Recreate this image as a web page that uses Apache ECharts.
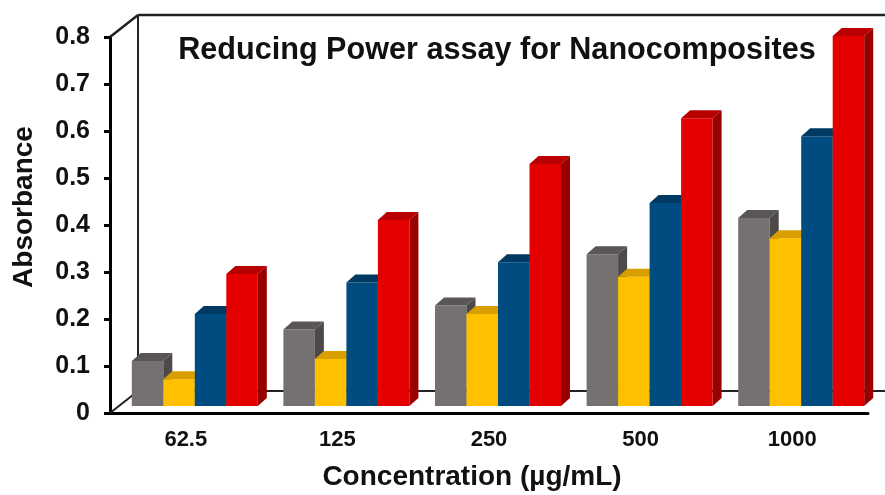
<!DOCTYPE html>
<html>
<head>
<meta charset="utf-8">
<script src="https://cdn.jsdelivr.net/npm/echarts@6/dist/echarts.min.js"></script>
<style>
html,body{margin:0;padding:0;background:#fff;}
#c{width:885px;height:495px;}
</style>
</head>
<body>
<div id="c"></div>
<script>
const categories = ['62.5', '125', '250', '500', '1000'];
const grayVals   = [0.096, 0.163, 0.214, 0.323, 0.400];
const yellowVals = [0.057, 0.100, 0.196, 0.275, 0.357];
const blueVals   = [0.196, 0.263, 0.306, 0.432, 0.574];
const redVals    = [0.281, 0.396, 0.515, 0.612, 0.787];
const yMin = 0, yMax = 0.8, yStep = 0.1;
const titleText = 'Reducing Power assay for Nanocomposites';
const yName = 'Absorbance';
const xName = 'Concentration (\u00b5g/mL)';

const seriesDefs = [
  { name: 'Series 1', vals: grayVals,   front: '#767171', top: '#5a5656', side: '#4d4949' },
  { name: 'Series 2', vals: yellowVals, front: '#ffc000', top: '#d99e00', side: '#b88600' },
  { name: 'Series 3', vals: blueVals,   front: '#004b7f', top: '#003a63', side: '#00304f' },
  { name: 'Series 4', vals: redVals,    front: '#e50000', top: '#b80000', side: '#990000' }
];

const FONT = '"Liberation Sans", Arial, sans-serif';
const GRID_L = 110, GRID_R = 17, GRID_T = 37, GRID_B = 82;
const BAR_DX = 9, BAR_DY = 7;     // bar plane offset
const DEP_X = 9, DEP_Y = 8;       // bar depth
const WALL_X = 28, WALL_Y = 22;   // back wall offset
const BAR_FRAC = 0.2078;          // bar width as fraction of band

function makeRender(k, def) {
  return function (params, api) {
    const ci = api.value(0), v = api.value(1);
    const base = api.coord([ci, 0]);
    const topP = api.coord([ci, v]);
    const band = api.size([1, 0])[0];
    const bw = band * BAR_FRAC;
    const x = base[0] - 2 * bw + k * bw + BAR_DX;
    const yb = base[1] - BAR_DY;
    const yt = topP[1] - BAR_DY;
    return {
      type: 'group',
      children: [
        { type: 'polygon', shape: { points: [[x, yb], [x, yt], [x + bw, yt], [x + bw, yb]] }, style: { fill: def.front } },
        { type: 'polygon', shape: { points: [[x, yt], [x + DEP_X, yt - DEP_Y], [x + bw + DEP_X, yt - DEP_Y], [x + bw, yt]] }, style: { fill: def.top } },
        { type: 'polygon', shape: { points: [[x + bw, yt], [x + bw + DEP_X, yt - DEP_Y], [x + bw + DEP_X, yb - DEP_Y], [x + bw, yb]] }, style: { fill: def.side } }
      ]
    };
  };
}

const chart = echarts.init(document.getElementById('c'), null, { renderer: 'canvas' });

const option = {
  animation: false,
  backgroundColor: '#ffffff',
  grid: { left: GRID_L, right: GRID_R, top: GRID_T, bottom: GRID_B, containLabel: false },
  xAxis: {
    type: 'category',
    data: categories,
    boundaryGap: true,
    axisLine: { show: true, lineStyle: { color: '#000', width: 3 } },
    axisTick: { show: false },
    axisLabel: { color: '#111', fontFamily: FONT, fontWeight: 'bold', fontSize: 22, margin: 16 },
    splitLine: { show: false }
  },
  yAxis: {
    type: 'value',
    min: yMin, max: yMax, interval: yStep,
    axisLine: { show: true, lineStyle: { color: '#000', width: 3 } },
    axisTick: { show: true, inside: false, length: 6, lineStyle: { color: '#000', width: 3 } },
    axisLabel: {
      color: '#111', fontFamily: FONT, fontWeight: 'bold', fontSize: 25, margin: 20,
      formatter: function (v) { return v === 0 ? '0' : v.toFixed(1); }
    },
    splitLine: { show: false }
  },
  series: seriesDefs.map(function (d, k) {
    return {
      type: 'custom',
      name: d.name,
      renderItem: makeRender(k, d),
      encode: { x: 0, y: 1 },
      data: d.vals.map(function (v, i) { return [i, v]; }),
      z: 5,
      clip: false
    };
  })
};
chart.setOption(option);

const y0 = chart.convertToPixel({ yAxisIndex: 0 }, yMin);
const yT = chart.convertToPixel({ yAxisIndex: 0 }, yMax);
const bx = GRID_L + WALL_X;
const lineStyle = { stroke: '#222', lineWidth: 2.5 };

chart.setOption({
  graphic: [
    { type: 'line', z: 1, shape: { x1: GRID_L, y1: yT, x2: bx, y2: yT - WALL_Y }, style: lineStyle },
    { type: 'line', z: 1, shape: { x1: bx, y1: yT - WALL_Y, x2: 900, y2: yT - WALL_Y }, style: lineStyle },
    { type: 'line', z: 1, shape: { x1: bx, y1: yT - WALL_Y, x2: bx, y2: y0 - WALL_Y }, style: { stroke: '#222', lineWidth: 2 } },
    { type: 'line', z: 1, shape: { x1: bx, y1: y0 - WALL_Y, x2: 900, y2: y0 - WALL_Y }, style: { stroke: '#222', lineWidth: 2 } },
    { type: 'line', z: 1, shape: { x1: GRID_L, y1: y0, x2: bx, y2: y0 - WALL_Y }, style: { stroke: '#222', lineWidth: 2 } },
    {
      type: 'text', z: 10, x: 497, y: 51,
      style: { text: titleText, fill: '#111', font: 'bold 30.6px "Liberation Sans"', textAlign: 'center', textVerticalAlign: 'middle' }
    },
    {
      type: 'text', z: 10, x: 24, y: 207, rotation: Math.PI / 2,
      style: { text: yName, fill: '#111', font: 'bold 28px "Liberation Sans"', textAlign: 'center', textVerticalAlign: 'middle' }
    },
    {
      type: 'text', z: 10, x: 472, y: 477,
      style: { text: xName, fill: '#111', font: 'bold 28px "Liberation Sans"', textAlign: 'center', textVerticalAlign: 'middle' }
    }
  ]
});
</script>
</body>
</html>
